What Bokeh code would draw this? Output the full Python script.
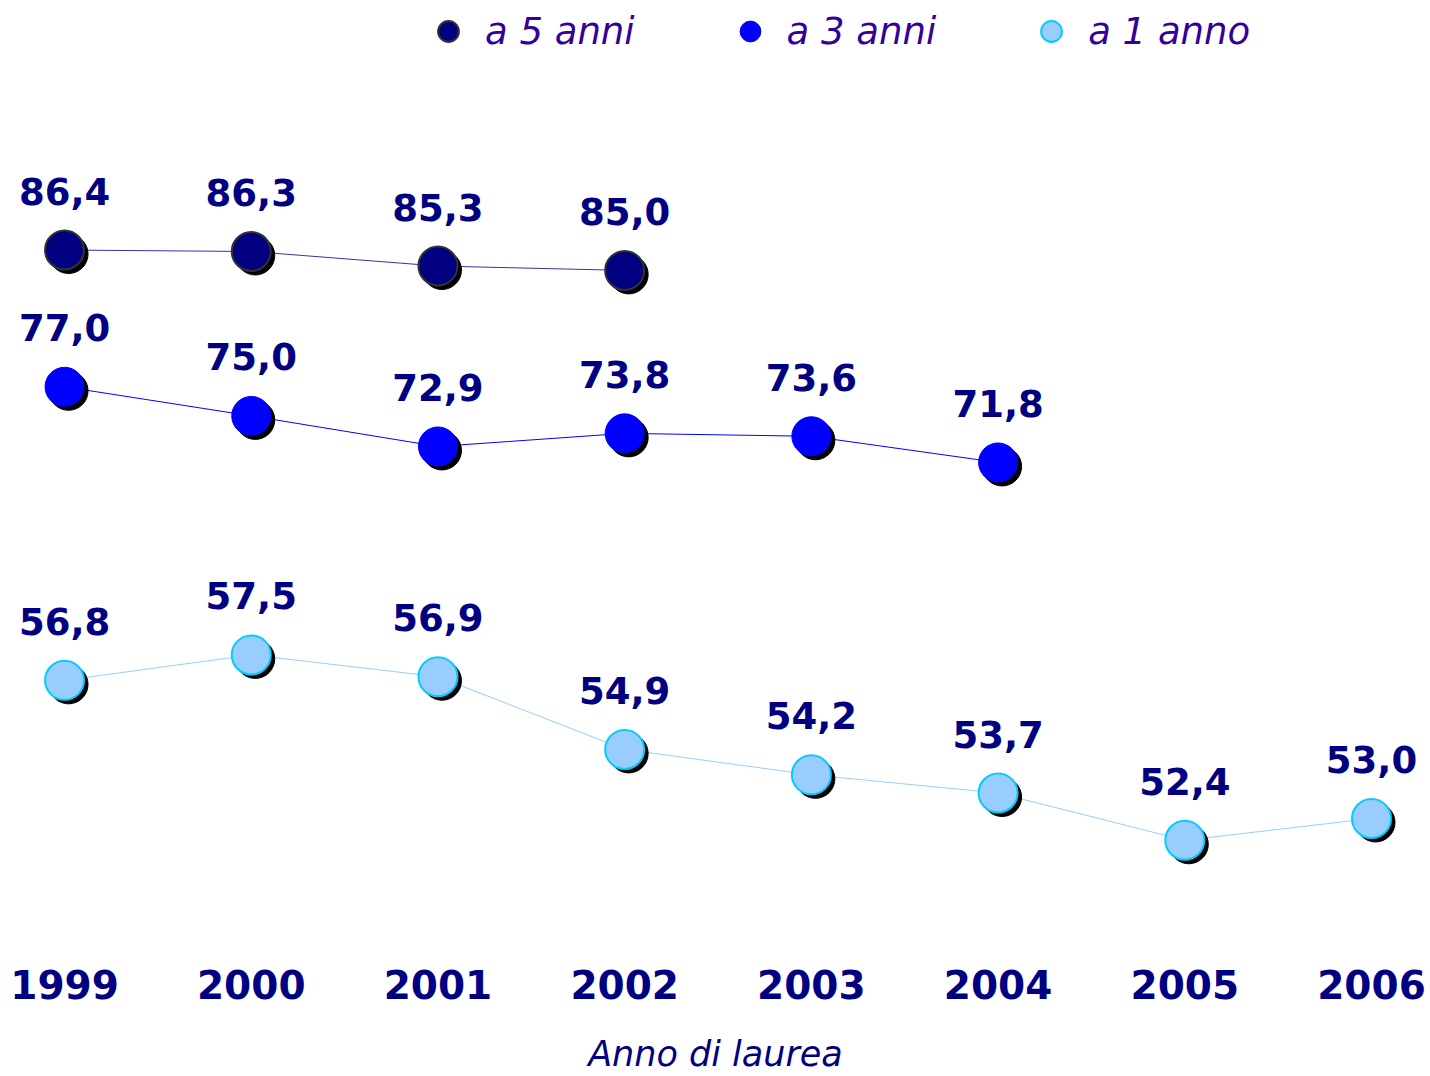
from bokeh.plotting import figure
from bokeh.models import (ColumnDataSource, Range1d, FixedTicker,
                          Legend, LegendItem)
from bokeh.transform import dodge
from bokeh.core.properties import value
from bokeh.embed import file_html
from bokeh.resources import INLINE

# ---- data ----
years_5 = [1999, 2000, 2001, 2002]
vals_5 = [86.4, 86.3, 85.3, 85.0]
years_3 = [1999, 2000, 2001, 2002, 2003, 2004]
vals_3 = [77.0, 75.0, 72.9, 73.8, 73.6, 71.8]
years_1 = [1999, 2000, 2001, 2002, 2003, 2004, 2005, 2006]
vals_1 = [56.8, 57.5, 56.9, 54.9, 54.2, 53.7, 52.4, 53.0]
tick_years = [1999, 2000, 2001, 2002, 2003, 2004, 2005, 2006]
series_names = ["a 5 anni", "a 3 anni", "a 1 anno"]
x_title = "Anno di laurea"


def fmt(v):
    return ("%.1f" % v).replace(".", ",")


src5 = ColumnDataSource(dict(x=years_5, y=vals_5, lab=[fmt(v) for v in vals_5]))
src3 = ColumnDataSource(dict(x=years_3, y=vals_3, lab=[fmt(v) for v in vals_3]))
src1 = ColumnDataSource(dict(x=years_1, y=vals_1, lab=[fmt(v) for v in vals_1]))

W, H = 1430, 1076
FH = 941.0  # expected frame height
X0, X1 = 1998.657, 2006.316
Y0, Y1 = 38.742, 103.549
Z0, Z1 = 49.560, 75.504

p = figure(width=W, height=H, output_backend="svg", toolbar_location=None,
           x_range=Range1d(X0, X1), y_range=Range1d(Y0, Y1),
           y_axis_location=None, min_border=0, outline_line_color=None)
p.extra_y_ranges = {"y2": Range1d(Z0, Z1)}
p.grid.visible = False
p.background_fill_color = "white"
p.border_fill_color = "white"

ax = p.xaxis[0]
ax.ticker = FixedTicker(ticks=tick_years)
ax.axis_line_color = None
ax.major_tick_line_color = None
ax.minor_tick_line_color = None
ax.major_label_text_font = "DejaVu Sans"
ax.major_label_text_font_style = "bold"
ax.major_label_text_font_size = "39px"
ax.major_label_text_color = "#000080"
ax.major_label_standoff = 20
ax.axis_label = x_title
ax.axis_label_text_font = "DejaVu Sans"
ax.axis_label_text_font_style = "italic"
ax.axis_label_text_font_size = "35px"
ax.axis_label_text_color = "#000080"
ax.axis_label_standoff = 32

# shadow offsets (screen 4px) in data units
dx = 4 * (X1 - X0) / W
dy1 = -4 * (Y1 - Y0) / FH
dy2 = -4 * (Z1 - Z0) / FH

MS = 39

# lines
p.line("x", "y", source=src5, line_color="#3333aa", line_width=1)
p.line("x", "y", source=src3, line_color="#0000ff", line_width=1)
p.line("x", "y", source=src1, line_color="#99ccff", line_width=1, y_range_name="y2")

# shadows
p.scatter(dodge("x", dx), dodge("y", dy1, range=p.y_range), source=src5, size=MS,
          fill_color="black", line_color="black")
p.scatter(dodge("x", dx), dodge("y", dy1, range=p.y_range), source=src3, size=MS,
          fill_color="black", line_color="black")
p.scatter(dodge("x", dx), dodge("y", dy2, range=p.extra_y_ranges["y2"]), source=src1,
          size=MS, fill_color="black", line_color="black", y_range_name="y2")

# markers
r5 = p.scatter("x", "y", source=src5, size=MS, fill_color="#000080",
               line_color="#333333", line_width=2)
r3 = p.scatter("x", "y", source=src3, size=MS, fill_color="#0000ff",
               line_color="#0000ff", line_width=1)
r1 = p.scatter("x", "y", source=src1, size=MS, fill_color="#99ccff",
               line_color="#00ccff", line_width=2, y_range_name="y2")

# value labels
lab_kw = dict(text="lab", text_font=value("DejaVu Sans"), text_font_style="bold",
              text_font_size="37px", text_color="#000080", text_align="center",
              text_baseline="alphabetic", y_offset=-59)
p.text("x", "y", source=src5, **lab_kw)
p.text("x", "y", source=src3, **lab_kw)
p.text("x", "y", source=src1, y_range_name="y2", **lab_kw)

# legend
legend = Legend(items=[LegendItem(label=series_names[0], renderers=[r5]),
                       LegendItem(label=series_names[1], renderers=[r3]),
                       LegendItem(label=series_names[2], renderers=[r1])],
                orientation="horizontal", location=(422, int(FH) - 52 - 3),
                glyph_width=52, glyph_height=52, label_standoff=11, spacing=89,
                padding=0, margin=0, border_line_color=None,
                background_fill_alpha=0,
                label_text_font="DejaVu Sans", label_text_font_style="italic",
                label_text_font_size="37px", label_text_color="#330099")
p.add_layout(legend, "center")

open("out.html", "w").write(file_html(p, INLINE))
